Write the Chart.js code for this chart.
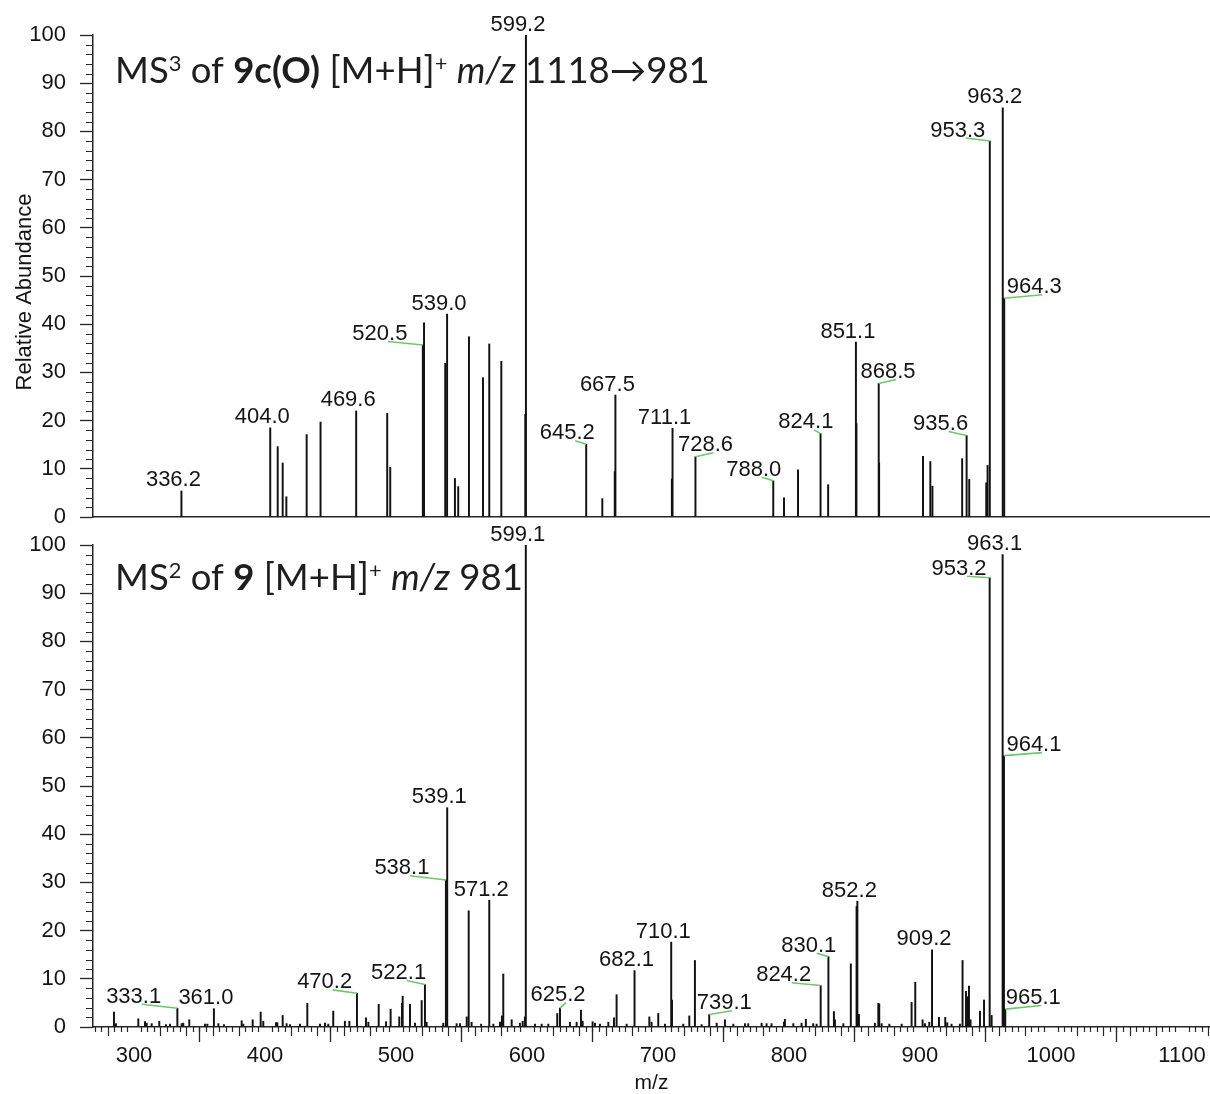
<!DOCTYPE html>
<html>
<head>
<meta charset="utf-8">
<script src="https://cdn.jsdelivr.net/npm/chart.js@4.4.1/dist/chart.umd.min.js"></script>
<style>
  html, body { margin: 0; padding: 0; background: #ffffff; }
  #wrap { position: relative; width: 1210px; height: 1094px; }
  #wrap canvas { position: absolute; left: 0; top: 0; }
</style>
</head>
<body>
<div id="wrap">
  <canvas id="ms3" width="1210" height="1094"></canvas>
  <canvas id="ms2" width="1210" height="1094"></canvas>
</div>
<script>
// ---- axis values ----
const mzMin = 268.7;
const mzMax = 1121.4;
const mzTickLabels = [300, 400, 500, 600, 700, 800, 900, 1000, 1100];
const abundanceTickLabels = [0, 10, 20, 30, 40, 50, 60, 70, 80, 90, 100];

// ---- MS3 of 9c(O), m/z 1118 -> 981 ----
const ms3Mz = [
  336.2, 404.0, 409.7, 413.5, 416.3, 431.8, 442.4, 469.6, 493.3, 495.6,
  520.5, 521.4, 537.6, 539.0, 545.0, 547.5, 555.7, 566.4, 571.2, 580.4,
  598.7, 599.2, 645.2, 657.5, 667.0, 667.5, 710.6, 711.1, 728.6, 788.0,
  796.2, 806.9, 824.1, 829.9, 851.1, 851.5, 868.5, 868.8, 902.3, 907.9,
  909.5, 932.2, 935.6, 937.6, 950.6, 951.6, 953.3, 963.2, 964.3
];
const ms3Abundance = [
  5.4, 18.5, 14.6, 11.2, 4.2, 17.1, 19.7, 22.0, 21.5, 10.3,
  35.7, 40.3, 31.9, 42.1, 8.0, 6.3, 37.4, 28.9, 35.9, 32.3,
  21.3, 100, 15.1, 3.8, 9.4, 25.3, 7.9, 18.4, 12.5, 7.5,
  4.0, 9.8, 17.3, 6.7, 36.3, 19.4, 27.7, 11.2, 12.6, 11.5,
  6.4, 12.1, 16.9, 7.8, 7.1, 10.7, 78.0, 84.9, 45.4
];
const ms3LabelMz = [
  336.2, 404.0, 469.6, 520.5, 539.0, 599.2, 645.2, 667.5, 711.1, 728.6,
  788.0, 824.1, 851.1, 868.5, 935.6, 953.3, 963.2, 964.3
];

// ---- MS2 of 9, m/z 981 ----
const ms2Mz = [
  284.7, 286.2, 303.3, 308.4, 309.7, 313.5, 319.3, 324.4, 327.5, 333.1,
  336.4, 337.6, 342.2, 354.2, 356.0, 361.0, 364.4, 368.7, 382.2, 383.5,
  390.6, 396.7, 398.7, 408.4, 409.4, 413.5, 416.5, 419.1, 426.7, 432.3,
  442.0, 445.8, 448.3, 452.1, 461.0, 464.4, 470.2, 477.1, 478.9, 486.8,
  492.4, 495.9, 502.5, 504.6, 505.1, 510.7, 514.5, 519.6, 522.1, 523.4,
  536.1, 538.1, 539.1, 546.3, 548.9, 554.0, 555.5, 557.7, 565.0, 571.2,
  574.3, 579.4, 580.9, 581.9, 588.3, 594.6, 596.7, 598.4, 599.1, 606.1,
  611.2, 616.3, 623.1, 625.2, 632.8, 637.9, 641.2, 642.5, 650.1, 651.9,
  655.7, 662.1, 666.4, 668.4, 676.1, 682.1, 693.4, 695.1, 700.2, 705.3,
  710.1, 710.7, 719.3, 723.9, 728.2, 733.3, 739.1, 744.8, 751.1, 757.5,
  766.4, 768.9, 779.1, 782.9, 786.7, 796.2, 796.9, 803.3, 809.6, 812.9,
  818.5, 821.1, 824.2, 830.1, 834.3, 835.1, 841.5, 847.2, 851.6, 852.2,
  853.4, 865.6, 868.2, 868.9, 870.7, 876.6, 886.0, 893.6, 896.4, 902.0,
  903.8, 907.1, 909.2, 914.5, 919.3, 920.8, 924.1, 930.5, 932.5, 935.1,
  936.4, 937.4, 938.6, 945.8, 948.9, 953.2, 954.7, 963.1, 964.1, 965.1
];
const ms2Abundance = [
  3.1, 0.7, 1.7, 1.1, 0.8, 0.7, 1.2, 0.5, 0.6, 3.9,
  0.7, 0.8, 1.5, 0.6, 0.6, 3.8, 0.7, 0.5, 1.3, 0.6,
  1.5, 3.1, 1.2, 0.9, 0.9, 2.4, 0.7, 0.5, 0.6, 4.9,
  0.6, 0.8, 0.6, 3.3, 1.2, 1.2, 7.0, 1.9, 1.0, 4.7,
  1.1, 3.7, 2.1, 4.9, 6.4, 4.7, 0.8, 5.5, 8.8, 1.0,
  0.8, 30.5, 45.5, 0.7, 0.7, 2.1, 24.1, 1.0, 0.6, 26.3,
  0.6, 1.0, 2.3, 11.0, 1.5, 0.8, 1.2, 2.1, 100, 0.6,
  0.6, 0.6, 2.8, 3.9, 1.0, 1.0, 3.5, 1.2, 1.1, 0.8,
  0.6, 1.0, 1.9, 6.7, 0.6, 11.7, 2.1, 1.0, 2.8, 0.6,
  17.6, 5.6, 0.6, 2.3, 13.8, 0.5, 2.6, 0.8, 1.5, 0.6,
  0.7, 0.7, 0.8, 0.7, 0.7, 1.0, 1.6, 0.7, 0.8, 1.6,
  0.7, 0.6, 8.6, 14.6, 3.2, 1.5, 0.7, 13.1, 25.0, 26.1,
  2.6, 0.8, 4.9, 4.8, 0.7, 0.6, 0.6, 5.1, 9.3, 1.5,
  0.7, 1.0, 16.0, 2.0, 2.0, 0.9, 0.6, 0.6, 13.8, 7.4,
  6.3, 8.5, 1.5, 3.3, 5.6, 93.2, 2.4, 98.0, 56.3, 3.7
];
const ms2LabelMz = [
  333.1, 361.0, 470.2, 522.1, 538.1, 539.1, 571.2, 599.1, 625.2, 682.1,
  710.1, 739.1, 824.2, 830.1, 852.2, 909.2, 953.2, 963.1, 964.1, 965.1
];

// Labels moved off their peak (pixel shift of the label anchor) get a leader line
const ms3Leaders = {
  '520.5': [-35, -3.5], '645.2': [-11, -3.5], '728.6': [18, -4], '788.0': [-11.5, -3.7],
  '824.1': [-6.7, -3.7], '868.5': [17.3, -4], '935.6': [-18, -4], '953.3': [-24, -3],
  '964.3': [38, -3.5]
};
const ms2Leaders = {
  '333.1': [-35.7, -4], '470.2': [-24.3, -3.4], '522.1': [-18.3, -4], '538.1': [-36, -4.3],
  '625.2': [6, -5.5], '739.1': [23, -3.8], '824.2': [-29, -2.8], '830.1': [-11.7, -3.3],
  '953.2': [-22.7, -1.5], '964.1': [38, -3], '965.1': [36, -3.7]
};

const titleRunsMs3 = [['MS', 'n'], ['3', 'sup'], [' of ', 'n'], ['9c(O)', 'b'], [' [M+H]', 'n'],
  ['+', 'sup'], [' ', 'n'], ['m/z', 'i'], [' 1118\u2192981', 'n']];
const titleRunsMs2 = [['MS', 'n'], ['2', 'sup'], [' of ', 'n'], ['9', 'b'], [' [M+H]', 'n'],
  ['+', 'sup'], [' ', 'n'], ['m/z', 'i'], [' 981', 'n']];

// ---- drawing helpers ----
const ARIAL = '"Liberation Sans", Arial, Helvetica, sans-serif';
const TITLE_FAMILY = 'Lato, "Noto Sans", "DejaVu Sans", sans-serif';
const INK = '#141414';
const AXIS = '#262626';

function runFont(style, size) {
  if (style === 'b') return `bold ${size}px ${TITLE_FAMILY}`;
  if (style === 'i') return `italic ${size}px ${TITLE_FAMILY}`;
  if (style === 'sup') return `${(size * 0.6).toFixed(1)}px ${TITLE_FAMILY}`;
  return `${size}px ${TITLE_FAMILY}`;
}
function runsWidth(ctx, runs, size) {
  let w = 0;
  runs.forEach(([t, s]) => { ctx.font = runFont(s, size); w += ctx.measureText(t).width; });
  return w;
}
// title size chosen so the MS3 heading spans ~595 px
const titleSize = (() => {
  const c = document.createElement('canvas').getContext('2d');
  return 40 * 595 / runsWidth(c, titleRunsMs3, 40);
})();

const peakLabels = {
  id: 'peakLabels',
  afterDatasetsDraw(chart, args, o) {
    if (!o.values) return;
    const ctx = chart.ctx, xs = chart.scales.x, ys = chart.scales.y;
    const pts = chart.data.datasets[0].data;
    ctx.save();
    ctx.font = `22px ${ARIAL}`;
    ctx.fillStyle = INK;
    ctx.textAlign = 'center';
    ctx.textBaseline = 'alphabetic';
    o.values.forEach(mz => {
      const pt = pts.find(p => Math.abs(p.x - mz) < 1e-6);
      const px = xs.getPixelForValue(mz), py = ys.getPixelForValue(pt.y);
      const key = mz.toFixed(1);
      const off = o.leaders[key];
      let ax = px, ay = py - 3;
      if (off) {
        ax = px + off[0]; ay = py + off[1];
        ctx.strokeStyle = '#6cc86c';
        ctx.lineWidth = 1.6;
        ctx.beginPath(); ctx.moveTo(ax, ay); ctx.lineTo(px, py); ctx.stroke();
      }
      ctx.fillText(key, ax - 8, ay - 1.5);
    });
    ctx.restore();
  }
};

const minorTicks = {
  id: 'minorTicks',
  afterDraw(chart, args, o) {
    const ctx = chart.ctx, xs = chart.scales.x, ys = chart.scales.y, a = chart.chartArea;
    ctx.save();
    ctx.strokeStyle = AXIS;
    ctx.lineWidth = 1.2;
    ctx.beginPath();
    for (let v = 0; v <= 100; v += 2) {
      if (v % 10 === 0) continue;
      const y = Math.round(ys.getPixelForValue(v)) + 0.5;
      ctx.moveTo(a.left - 7, y); ctx.lineTo(a.left, y);
    }
    if (o.xTicks) {
      for (let m = 270; m <= 1120; m += 5) {
        if (m % 100 === 0) continue;
        const x = Math.round(xs.getPixelForValue(m)) + 0.5;
        const len = m % 20 === 0 ? 9 : 5;
        ctx.moveTo(x, a.bottom); ctx.lineTo(x, a.bottom + len);
      }
    }
    ctx.stroke();
    ctx.restore();
  }
};

const panelText = {
  id: 'panelText',
  afterDraw(chart, args, o) {
    const ctx = chart.ctx, a = chart.chartArea;
    ctx.save();
    ctx.fillStyle = '#1e1e1e';
    ctx.textAlign = 'left';
    ctx.textBaseline = 'alphabetic';
    let x = a.left + 22;
    const base = a.top + o.titleDy;
    o.runs.forEach(([t, s]) => {
      ctx.font = runFont(s, titleSize);
      const y = s === 'sup' ? base - titleSize * 0.33 : base;
      ctx.fillText(t, x, y);
      x += ctx.measureText(t).width;
    });
    if (o.yTitle) {
      ctx.fillStyle = INK;
      ctx.font = `22px ${ARIAL}`;
      ctx.textAlign = 'center';
      ctx.textBaseline = 'middle';
      ctx.translate(25, (a.top + a.bottom) / 2 + 16);
      ctx.rotate(-Math.PI / 2);
      ctx.fillText(o.yTitle, 0, 0);
    }
    ctx.restore();
  }
};

function buildSpectrum(id, mz, abundance, labelMz, leaders, panel) {
  const points = mz.map((m, i) => ({ x: m, y: abundance[i] }));
  return new Chart(document.getElementById(id), {
    type: 'bar',
    data: {
      datasets: [{
        data: points,
        backgroundColor: '#111111',
        borderWidth: 0,
        barThickness: 1.3,
        grouped: false
      }]
    },
    options: {
      responsive: false,
      animation: false,
      events: [],
      layout: { padding: { left: 0, right: 0, top: panel.top, bottom: panel.bottom } },
      scales: {
        x: {
          type: 'linear',
          min: mzMin,
          max: mzMax,
          offset: false,
          afterBuildTicks: s => { s.ticks = mzTickLabels.map(v => ({ value: v })); },
          afterFit: s => { s.height = panel.xHeight; },
          ticks: {
            display: panel.xLabels,
            autoSkip: false,
            maxRotation: 0,
            padding: 1,
            color: INK,
            font: { family: ARIAL, size: 22 },
            callback: v => String(v)
          },
          grid: {
            drawOnChartArea: false,
            drawTicks: panel.xLabels,
            tickLength: 15,
            tickWidth: 1.3,
            color: AXIS
          },
          border: { display: true, color: AXIS, width: 1.5 },
          title: {
            display: panel.xLabels,
            text: 'm/z',
            color: INK,
            font: { family: ARIAL, size: 21, lineHeight: 1 },
            padding: { top: 0, bottom: 0 }
          }
        },
        y: {
          min: 0,
          max: 100,
          afterBuildTicks: s => { s.ticks = abundanceTickLabels.map(v => ({ value: v })); },
          afterFit: s => { s.width = 93; },
          ticks: {
            padding: 14,
            color: INK,
            font: { family: ARIAL, size: 22 },
            callback: v => String(v)
          },
          grid: {
            drawOnChartArea: false,
            tickLength: 13,
            tickWidth: 1.3,
            color: AXIS
          },
          border: { display: true, color: AXIS, width: 1.5 }
        }
      },
      plugins: {
        legend: { display: false },
        tooltip: { enabled: false },
        peakLabels: { values: labelMz, leaders: leaders },
        minorTicks: { xTicks: panel.xLabels },
        panelText: { runs: panel.runs, titleDy: panel.titleDy, yTitle: panel.yTitle }
      }
    },
    plugins: [peakLabels, minorTicks, panelText]
  });
}

buildSpectrum('ms3', ms3Mz, ms3Abundance, ms3LabelMz, ms3Leaders, {
  top: 35, bottom: 577, xHeight: 0, xLabels: false,
  runs: titleRunsMs3, titleDy: 48, yTitle: 'Relative Abundance'
});
buildSpectrum('ms2', ms2Mz, ms2Abundance, ms2LabelMz, ms2Leaders, {
  top: 545, bottom: 0, xHeight: 67, xLabels: true,
  runs: titleRunsMs2, titleDy: 45, yTitle: null
});
</script>
</body>
</html>
